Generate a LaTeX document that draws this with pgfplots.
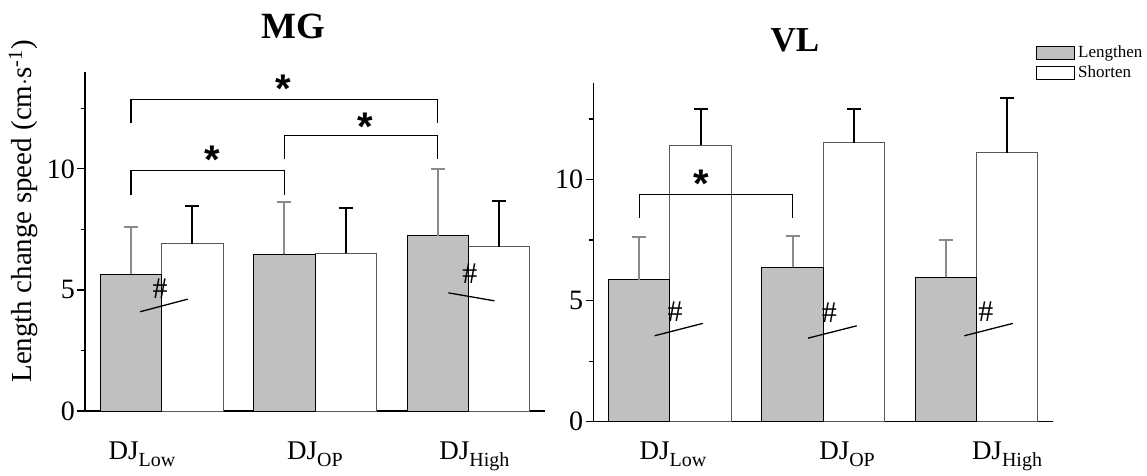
\documentclass[border=0pt]{standalone}
\usepackage{pgfplots}
\pgfplotsset{compat=1.18}
\usepackage{fontspec}
\setmainfont{Liberation Serif}
\newfontfamily\starfont{Liberation Sans}
\definecolor{lgray}{HTML}{C0C0C0}
\definecolor{egray}{HTML}{8A8A8A}

\pgfplotsset{
  panel/.style={
    scale only axis, width=460pt, height=339pt,
    xmin=-0.5, xmax=2.5, ymin=0, ymax=14,
    axis x line=bottom, axis y line=left,
    axis line style={-, line width=1.2pt},
    tick align=outside,
    ytick={0,5,10}, minor ytick={2.5,7.5,12.5},
    major tick length=7.5pt, minor tick length=4.5pt,
    every tick/.style={line width=1.2pt, black},
    xtick=\empty, minor xtick={0.5,1.5,2.5},
    /pgf/number format/assume math mode=true,
    yticklabel style={font=\fontsize{28}{30}\selectfont, anchor=east, inner sep=0pt, xshift=-2.5pt},
    extra x tick style={major tick length=0pt,
      xticklabel style={font=\fontsize{27}{30}\selectfont, anchor=base, inner sep=0pt}},
    clip=false,
  },
  gbar/.style={ybar, bar width=0.4, bar shift=0pt, fill=lgray, draw=black, line width=1pt, forget plot},
  wbar/.style={ybar, bar width=0.4, bar shift=0pt, fill=white, draw=black!65, line width=1pt, forget plot},
  gerr/.style={only marks, mark=*, mark size=0.01pt, color=egray, forget plot,
    error bars/y dir=plus, error bars/y explicit, error bars/error mark=|,
    error bars/error bar style={draw=egray, line width=2pt},
    error bars/error mark options={draw=egray, line width=2pt, mark size=7pt}},
  werr/.style={only marks, mark=*, mark size=0.01pt, color=black, forget plot,
    error bars/y dir=plus, error bars/y explicit, error bars/error mark=|,
    error bars/error bar style={draw=black, line width=2pt},
    error bars/error mark options={draw=black, line width=2pt, mark size=7pt}},
  brk/.style={black, line width=1.3pt, forget plot},
  hl/.style={black, line width=1.3pt, forget plot},
}
\newcommand{\st}{\starfont\bfseries\fontsize{40}{40}\selectfont *}
\newcommand{\hs}{\fontsize{30}{30}\selectfont \#}
\newcommand{\djlab}[1]{DJ\raisebox{-7pt}{\fontsize{20}{20}\selectfont #1}}

\begin{document}
\begin{tikzpicture}
\path[use as bounding box] (0,0) rectangle (1147pt,475pt);

% ---------- MG ----------
\begin{axis}[panel, at={(85pt,64pt)}, anchor=south west,
  extra x ticks={-0.128,1.0,2.04},
  extra x tick labels={\djlab{Low}, \djlab{OP}, \djlab{High}},
  extra x tick style={xticklabel style={yshift=-48pt}}]
\addplot[wbar] coordinates {(0.2,6.90) (1.2,6.51) (2.2,6.78)};
\addplot[gbar] coordinates {(-0.2,5.65) (0.8,6.47) (1.8,7.23)};
\addplot[werr] coordinates {(0.2,6.90) +- (0,1.56) (1.2,6.51) +- (0,1.87) (2.2,6.78) +- (0,1.90)};
\addplot[gerr] coordinates {(-0.2,5.65) +- (0,1.96) (0.8,6.47) +- (0,2.18) (1.8,7.23) +- (0,2.77)};
\addplot[brk] coordinates {(-0.2,8.94) (-0.2,9.94) (0.8,9.94) (0.8,8.94)};
\addplot[brk] coordinates {(0.8,10.39) (0.8,11.39) (1.8,11.39) (1.8,10.39)};
\addplot[brk] coordinates {(-0.2,11.9) (-0.2,12.86) (1.8,12.86) (1.8,11.9)};
\addplot[hl] coordinates {(-0.14,4.1) (0.17,4.62)};
\addplot[hl] coordinates {(1.87,4.88) (2.17,4.55)};
\node[inner sep=0pt, yshift=-8pt] at (axis cs:0.33,10.7) {\st};
\node[inner sep=0pt, yshift=-8pt] at (axis cs:1.33,12.05) {\st};
\node[inner sep=0pt, yshift=-8pt] at (axis cs:0.79,13.62) {\st};
\node[inner sep=0pt] at (axis cs:-0.01,5.05) {\hs};
\node[inner sep=0pt] at (axis cs:2.01,5.68) {\hs};
\end{axis}

% ---------- VL ----------
\begin{axis}[panel, at={(593.3pt,53.3pt)}, anchor=south west,
  extra x ticks={0.02,1.155,2.198},
  extra x tick labels={\djlab{Low}, \djlab{OP}, \djlab{High}},
  extra x tick style={xticklabel style={yshift=-37.3pt}}]
\addplot[wbar] coordinates {(0.2,11.42) (1.2,11.53) (2.2,11.11)};
\addplot[gbar] coordinates {(-0.2,5.87) (0.8,6.37) (1.8,5.96)};
\addplot[werr] coordinates {(0.2,11.42) +- (0,1.51) (1.2,11.53) +- (0,1.40) (2.2,11.11) +- (0,2.26)};
\addplot[gerr] coordinates {(-0.2,5.87) +- (0,1.74) (0.8,6.37) +- (0,1.30) (1.8,5.96) +- (0,1.54)};
\addplot[brk] coordinates {(-0.2,8.42) (-0.2,9.38) (0.8,9.38) (0.8,8.42)};
\addplot[hl] coordinates {(-0.10,3.55) (0.214,4.06)};
\addplot[hl] coordinates {(0.90,3.45) (1.218,3.96)};
\addplot[hl] coordinates {(1.92,3.55) (2.236,4.06)};
\node[inner sep=0pt, yshift=-8pt] at (axis cs:0.207,10.14) {\st};
\node[inner sep=0pt] at (axis cs:0.033,4.54) {\hs};
\node[inner sep=0pt] at (axis cs:1.04,4.51) {\hs};
\node[inner sep=0pt] at (axis cs:2.06,4.54) {\hs};
\end{axis}

% legend
\draw[fill=lgray, draw=black, line width=1pt] (1036pt,415.7pt) rectangle (1074pt,428.3pt);
\draw[fill=white, draw=black, line width=1pt] (1036pt,395pt) rectangle (1074pt,408.3pt);
\node[anchor=base west, inner sep=0pt] at (1078pt,417.7pt) {\fontsize{17}{20}\selectfont Lengthen};
\node[anchor=base west, inner sep=0pt] at (1078pt,397.5pt) {\fontsize{17}{20}\selectfont Shorten};

% titles and y label
\node[font=\fontsize{37}{37}\selectfont\bfseries] at (293pt,448.5pt) {MG};
\node[font=\fontsize{35}{35}\selectfont\bfseries] at (795pt,435pt) {VL};
\node[rotate=90, font=\fontsize{29}{30}\selectfont] at (23pt,263.5pt) {Length change speed (cm$\cdot$s\textsuperscript{-1})};
\end{tikzpicture}
\end{document}
